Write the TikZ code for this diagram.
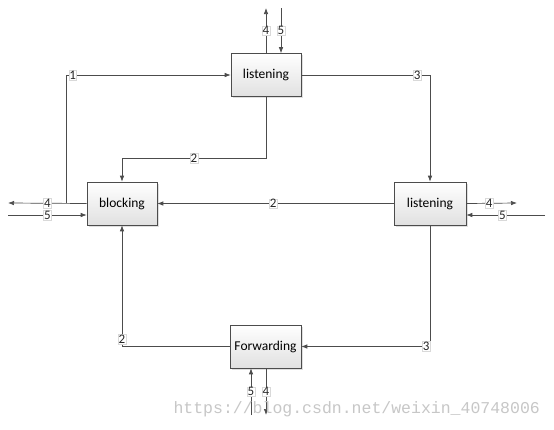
\documentclass[tikz,border=0pt]{standalone}
\usepackage{fontspec}
\setmainfont{Carlito}
\newfontfamily\wmfont{Liberation Mono}
\usetikzlibrary{arrows.meta,shadows}
\tikzset{
  box/.style={draw=black!70, line width=0.6pt, minimum width=70pt, minimum height=43pt,
    top color=white, bottom color=black!12, font=\fontsize{13.5}{15}\selectfont,
    drop shadow={shadow xshift=1.5pt, shadow yshift=-1.5pt, opacity=0.25}},
  conn/.style={draw=black!70, line width=0.7pt},
  arr/.style={conn, -{Latex[length=6pt,width=4.5pt]}},
  lbl/.style={fill=white, draw=black!15, line width=0.3pt, inner sep=0.6pt,
    font=\fontsize{13}{14}\selectfont, text=black!85}
}
\begin{document}
\begin{tikzpicture}[x=1pt,y=-1pt]
\useasboundingbox (0,0) rectangle (554,429);
\fill[white] (0,0) rectangle (554,429);
% boxes
\node[box] (tl) at (266,75) {listening};
\node[box] (bl) at (122,203.5) {blocking};
\node[box, minimum width=72pt] (rl) at (430,203.5) {listening};
\node[box, minimum width=71pt] (fw) at (265.5,346.5) {Forwarding};
% free ends
\coordinate (t4) at (266,8);
\coordinate (t5) at (281,8);
\coordinate (l4) at (8,203);
\coordinate (l5) at (8,215);
\coordinate (r4) at (517,203);
\coordinate (r5) at (545,215);
\coordinate (b5) at (251,415);
\coordinate (b4) at (266,415);
\coordinate (c1) at (66,203);
% connector 1
\draw[arr] (c1) |- node[lbl, pos=0.52] {1} (tl.west);
% connector 2 top -> blocking
\draw[arr] (tl.south) |- (122,158) node[lbl, pos=0.75] {2} -- (bl.north);
% connector 3 top -> right listening
\draw[arr] (tl.east) -| node[lbl, pos=0.45] {3} (rl.north);
% connector 2 right -> blocking
\draw[arr] (rl.west) -- node[lbl, pos=0.51] {2} (bl.east);
% connector 3 right -> forwarding
\draw[arr] (rl.south) |- node[lbl, pos=0.515] {3} (fw.east);
% connector 2 forwarding -> blocking
\draw[arr] (fw.west) -| node[lbl, pos=0.53] {2} (bl.south);
% top 4 / 5
\draw[arr] (tl.north) -- node[lbl] {4} (t4);
\draw[arr] (t5) -- node[lbl] {5} (tl.north -| t5);
% left 4 / 5
\draw[arr] (bl.west) -- node[lbl, pos=0.5] {4} (l4);
\draw[arr] (l5) -- node[lbl, pos=0.5] {5} (bl.west |- l5);
% right 4 / 5
\draw[arr] (rl.east) -- node[lbl, pos=0.45] {4} (r4);
\draw[arr] (r5) -- node[lbl, pos=0.54] {5} (rl.east |- r5);
% bottom 5 / 4
\draw[arr] (b5) -- node[lbl] {5} (fw.south -| b5);
\draw[arr] (fw.south -| b4) -- node[lbl] {4} (b4);
% watermark
\node[text=black!22, font=\wmfont\fontsize{16.5}{18}\selectfont, anchor=west] (wm) at (170,409) {https://blog.csdn.net/weixin\_40748006};
\end{tikzpicture}
\end{document}
